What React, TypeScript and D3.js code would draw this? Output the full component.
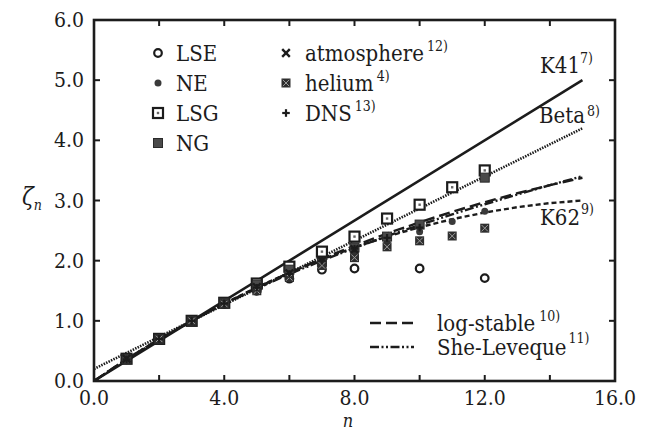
import React from "react";
import * as d3 from "d3";

const W = 651;
const H = 432;
const M = { left: 94, right: 615, top: 20, bottom: 381 };

const xTicksLabeled = [0, 4, 8, 12, 16];
const xTicksMinor = [2, 4, 6, 8, 10, 12, 14];
const yTicks = [0, 1, 2, 3, 4, 5, 6];

// model curves (n, zeta_n)
const k41 = [[0, 0], [15, 5.0]];
const beta = [[0, 0.2], [15, 4.2]];
const k62 = [
  [0, 0], [1, 0.356], [2, 0.689], [3, 1.0], [4, 1.289], [5, 1.556], [6, 1.8], [7, 2.022],
  [8, 2.222], [9, 2.4], [10, 2.556], [11, 2.689], [12, 2.8], [13, 2.889], [14, 2.956], [15, 3.0],
];
const logStable = [
  [0, 0], [1, 0.363], [2, 0.694], [3, 1.0], [4, 1.285], [5, 1.551], [6, 1.8], [7, 2.032],
  [8, 2.249], [9, 2.451], [10, 2.638], [11, 2.812], [12, 2.972], [13, 3.12], [14, 3.255], [15, 3.378],
];
const sheLeveque = [
  [0, 0], [1, 0.364], [2, 0.696], [3, 1.0], [4, 1.28], [5, 1.538], [6, 1.778], [7, 2.001],
  [8, 2.211], [9, 2.407], [10, 2.594], [11, 2.77], [12, 2.938], [13, 3.099], [14, 3.254], [15, 3.403],
];

// measured exponents
const LSE = [[1, 0.36], [2, 0.7], [3, 1.0], [4, 1.28], [5, 1.5], [6, 1.7], [7, 1.85], [8, 1.87], [10, 1.87], [12, 1.71]];
const NE = [[1, 0.36], [2, 0.69], [3, 1.0], [4, 1.28], [5, 1.52], [6, 1.74], [7, 1.95], [8, 2.13], [9, 2.3], [10, 2.48], [11, 2.65], [12, 2.82]];
const LSG = [[1, 0.37], [2, 0.7], [3, 1.0], [4, 1.3], [5, 1.62], [6, 1.9], [7, 2.15], [8, 2.4], [9, 2.7], [10, 2.93], [11, 3.22], [12, 3.5]];
const NG = [[1, 0.36], [2, 0.7], [3, 1.0], [4, 1.3], [5, 1.6], [6, 1.85], [7, 1.98], [8, 2.22], [9, 2.4], [10, 2.6], [12, 3.38]];
const atmosphere = [[1, 0.37], [2, 0.7], [3, 1.0], [4, 1.28], [5, 1.56], [6, 1.79], [7, 2.0], [8, 2.19]];
const helium = [[2, 0.7], [3, 1.0], [4, 1.28], [5, 1.5], [6, 1.72], [7, 1.92], [8, 2.05], [9, 2.23], [10, 2.33], [11, 2.41], [12, 2.54]];
const DNS = [[1, 0.36], [2, 0.7], [3, 1.0], [4, 1.29], [5, 1.55], [6, 1.78], [7, 2.0], [8, 2.2], [9, 2.38], [10, 2.55]];

const INK = "#1c1c1c";
const FONT = "'DejaVu Serif Condensed', 'DejaVu Serif', serif";

const x = d3.scaleLinear().domain([0, 16]).range([M.left, M.right]);
const y = d3.scaleLinear().domain([0, 6]).range([M.bottom, M.top]);
const line = d3.line<number[]>().x((d) => x(d[0])).y((d) => y(d[1]));

type Kind = "openCircle" | "dot" | "openSquare" | "filledSquare" | "cross" | "boxCross" | "plus";

function Marker({ kind, cx, cy }: { kind: Kind; cx: number; cy: number }) {
  switch (kind) {
    case "openCircle":
      return <circle cx={cx} cy={cy} r={3.8} fill="white" stroke={INK} strokeWidth={2.2} />;
    case "dot":
      return <circle cx={cx} cy={cy} r={3.5} fill="#3a3a3a" />;
    case "openSquare":
      return (
        <g>
          <rect x={cx - 5} y={cy - 5} width={10} height={10} fill="white" stroke={INK} strokeWidth={2.2} />
          <rect x={cx - 1.2} y={cy - 1.2} width={2.4} height={2.4} fill="#666" />
        </g>
      );
    case "filledSquare":
      return <rect x={cx - 4.5} y={cy - 4.5} width={9} height={9} fill="#4a4a4a" stroke="#2a2a2a" strokeWidth={1} />;
    case "cross":
      return (
        <g stroke={INK} strokeWidth={2.4}>
          <line x1={cx - 3.8} y1={cy - 3.8} x2={cx + 3.8} y2={cy + 3.8} />
          <line x1={cx - 3.8} y1={cy + 3.8} x2={cx + 3.8} y2={cy - 3.8} />
        </g>
      );
    case "boxCross":
      return (
        <g>
          <rect x={cx - 4.5} y={cy - 4.5} width={9} height={9} fill="#2e2e2e" />
          <g stroke="#9a9a9a" strokeWidth={1}>
            <line x1={cx - 3.2} y1={cy - 3.2} x2={cx + 3.2} y2={cy + 3.2} />
            <line x1={cx - 3.2} y1={cy + 3.2} x2={cx + 3.2} y2={cy - 3.2} />
          </g>
        </g>
      );
    case "plus":
      return (
        <g stroke={INK} strokeWidth={2.2}>
          <line x1={cx - 3.8} y1={cy} x2={cx + 3.8} y2={cy} />
          <line x1={cx} y1={cy - 3.8} x2={cx} y2={cy + 3.8} />
        </g>
      );
  }
  return null;
}

const series: { name: string; ref?: string; kind: Kind; data: number[][] }[] = [
  { name: "LSE", kind: "openCircle", data: LSE },
  { name: "NE", kind: "dot", data: NE },
  { name: "LSG", kind: "openSquare", data: LSG },
  { name: "NG", kind: "filledSquare", data: NG },
  { name: "atmosphere", ref: "12)", kind: "cross", data: atmosphere },
  { name: "helium", ref: "4)", kind: "boxCross", data: helium },
  { name: "DNS", ref: "13)", kind: "plus", data: DNS },
];

export default function App() {
  const lw = 2.4;
  return (
    <svg width={W} height={H} style={{ position: "absolute", left: 0, top: 0, background: "white" }}>
      <rect width={W} height={H} fill="white" />
      {/* model curves */}
      <path d={line(k41) || ""} fill="none" stroke={INK} strokeWidth={2.6} />
      <path d={line(beta) || ""} fill="none" stroke={INK} strokeWidth={2.6} strokeDasharray="1.5,1.2" />
      <path d={line(k62) || ""} fill="none" stroke={INK} strokeWidth={lw} strokeDasharray="5,3" />
      <path d={line(logStable) || ""} fill="none" stroke={INK} strokeWidth={lw} strokeDasharray="11,5" />
      <path d={line(sheLeveque) || ""} fill="none" stroke={INK} strokeWidth={lw} strokeDasharray="9,2.5,2,2.5,2,2.5" />

      {/* data markers */}
      {series.map((s) => (
        <g key={s.name}>
          {s.data.map((d, i) => (
            <Marker key={i} kind={s.kind} cx={x(d[0])} cy={y(d[1])} />
          ))}
        </g>
      ))}

      {/* frame */}
      <rect x={M.left} y={M.top} width={M.right - M.left} height={M.bottom - M.top} fill="none" stroke={INK} strokeWidth={2.6} />
      {xTicksMinor.map((t) => (
        <g key={"xt" + t} stroke={INK} strokeWidth={2}>
          <line x1={x(t)} x2={x(t)} y1={M.bottom} y2={M.bottom - 6} />
          <line x1={x(t)} x2={x(t)} y1={M.top} y2={M.top + 6} />
        </g>
      ))}
      {yTicks.slice(1, -1).map((t) => (
        <g key={"yt" + t} stroke={INK} strokeWidth={2}>
          <line x1={M.left} x2={M.left + 6} y1={y(t)} y2={y(t)} />
          <line x1={M.right} x2={M.right - 6} y1={y(t)} y2={y(t)} />
        </g>
      ))}
      <g fontFamily={FONT} fill={INK}>
        {xTicksLabeled.map((t) => (
          <text key={"xl" + t} x={x(t)} y={405} fontSize={21} textAnchor="middle">
            {t.toFixed(1)}
          </text>
        ))}
        {yTicks.map((t) => (
          <text key={"yl" + t} x={84} y={y(t) + 7} fontSize={21} textAnchor="end">
            {t.toFixed(1)}
          </text>
        ))}
        <text x={x(7.8)} y={427} fontSize={18} fontStyle="italic" textAnchor="middle">n</text>
        <text x={22} y={205} fontSize={24} fontStyle="italic">
          ζ<tspan fontSize={14} dy={5}>n</tspan>
        </text>

        {/* curve labels */}
        <text x={540} y={73} fontSize={22}>K41<tspan fontSize={14} dy={-10}>7)</tspan></text>
        <text x={539} y={123} fontSize={22}>Beta<tspan fontSize={14} dx={2} dy={-7}>8)</tspan></text>
        <text x={540} y={225} fontSize={22}>K62<tspan fontSize={14} dx={1} dy={-11}>9)</tspan></text>

        {/* marker legend */}
        {series.map((s, i) => {
          const col = i < 4 ? 0 : 1;
          const row = col === 0 ? i : i - 4;
          const mx = col === 0 ? 158 : 286;
          const tx = col === 0 ? 176 : 305;
          const cy = 53 + row * 30;
          return (
            <g key={"lg" + s.name}>
              <Marker kind={s.kind} cx={mx} cy={cy} />
              <text x={tx} y={cy + 8} fontSize={22}>
                {s.name}
                {s.ref && <tspan fontSize={14} dx={3} dy={-10}>{s.ref}</tspan>}
              </text>
            </g>
          );
        })}

        {/* line legend */}
        <line x1={370} x2={414} y1={323} y2={323} stroke={INK} strokeWidth={lw} strokeDasharray="11,5" />
        <text x={437} y={331} fontSize={22}>log-stable<tspan fontSize={14} dx={4} dy={-10}>10)</tspan></text>
        <line x1={370} x2={414} y1={347} y2={347} stroke={INK} strokeWidth={lw} strokeDasharray="9,2.5,2,2.5,2,2.5" />
        <text x={437} y={355} fontSize={22}>She-Leveque<tspan fontSize={14} dx={2} dy={-12}>11)</tspan></text>
      </g>
    </svg>
  );
}
